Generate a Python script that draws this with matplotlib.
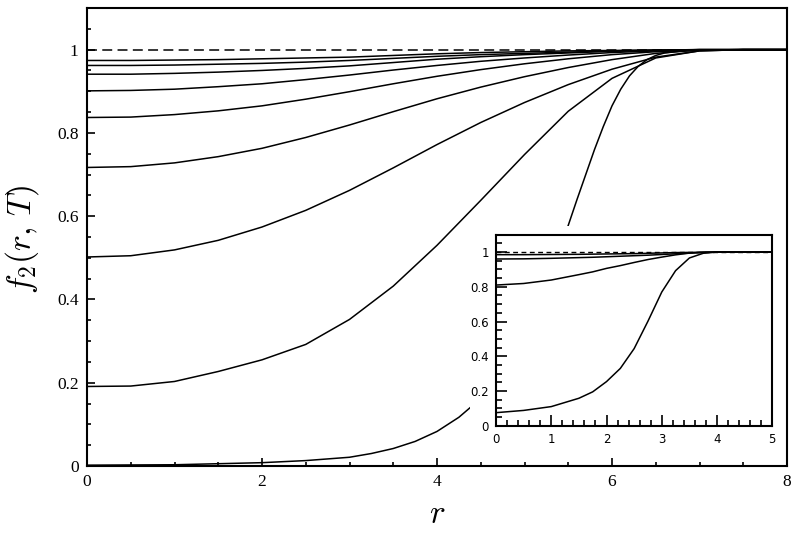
import matplotlib
matplotlib.use("Agg")
import matplotlib.pyplot as plt
from matplotlib.patches import Rectangle
from matplotlib.ticker import MultipleLocator, FixedLocator

plt.rcParams['mathtext.fontset'] = 'cm'
plt.rcParams['font.family'] = 'serif'
plt.rcParams['font.serif'] = ['Liberation Serif', 'DejaVu Serif']

# ---------------- main panel data ----------------
r_main = [0, 0.5, 1, 1.5, 2, 2.5, 3, 3.5, 4, 4.5, 5, 5.5, 6, 6.5, 7, 7.5, 8]
c2 = [0.191, 0.192, 0.203, 0.227, 0.255, 0.292, 0.352, 0.432, 0.530, 0.638, 0.748, 0.852, 0.931, 0.980, 0.997, 1.0, 1.0]
c3 = [0.502, 0.505, 0.519, 0.542, 0.574, 0.614, 0.662, 0.716, 0.772, 0.825, 0.873, 0.916, 0.953, 0.982, 0.997, 1.0, 1.0]
c4 = [0.717, 0.719, 0.728, 0.743, 0.763, 0.789, 0.819, 0.851, 0.882, 0.910, 0.935, 0.957, 0.976, 0.991, 0.999, 1.0, 1.0]
c5 = [0.837, 0.838, 0.844, 0.853, 0.865, 0.881, 0.899, 0.918, 0.936, 0.952, 0.966, 0.978, 0.988, 0.995, 0.999, 1.0, 1.0]
c6 = [0.901, 0.902, 0.905, 0.911, 0.918, 0.928, 0.939, 0.951, 0.962, 0.972, 0.980, 0.987, 0.993, 0.997, 1.0, 1.0, 1.0]
c7 = [0.941, 0.941, 0.943, 0.946, 0.950, 0.955, 0.961, 0.969, 0.977, 0.983, 0.988, 0.992, 0.996, 0.998, 1.0, 1.0, 1.0]
c8 = [0.962, 0.962, 0.963, 0.965, 0.967, 0.970, 0.974, 0.979, 0.984, 0.988, 0.991, 0.994, 0.997, 0.999, 1.0, 1.0, 1.0]
c9 = [0.974, 0.974, 0.975, 0.976, 0.978, 0.980, 0.982, 0.986, 0.990, 0.993, 0.995, 0.997, 0.998, 0.999, 1.0, 1.0, 1.0]

r_c1 = [0, 1, 2, 2.5, 3, 3.25, 3.5, 3.75, 4.0, 4.25, 4.4, 4.6, 4.8, 5.0, 5.2, 5.4, 5.5, 5.6, 5.7,
        5.8, 5.9, 6.0, 6.1, 6.2, 6.3, 6.4, 6.5, 6.6, 6.8, 7.0, 7.5, 8]
c1 = [0.002, 0.003, 0.008, 0.013, 0.021, 0.030, 0.042, 0.059, 0.083, 0.117, 0.144, 0.19, 0.25,
      0.33, 0.42, 0.52, 0.578, 0.64, 0.70, 0.76, 0.815, 0.865, 0.905, 0.937, 0.960, 0.976,
      0.986, 0.992, 0.997, 0.999, 1.0, 1.0]

main_curves = [c2, c3, c4, c5, c6, c7, c8, c9]
ref_level = 1.0

# ---------------- inset data ----------------
r_in = [0, 0.5, 1.0, 1.5, 1.75, 2.0, 2.25, 2.5, 2.75, 3.0, 3.25, 3.5, 3.75, 4.0, 4.5, 5.0]
i1 = [0.075, 0.088, 0.110, 0.158, 0.195, 0.254, 0.330, 0.444, 0.602, 0.770, 0.893, 0.966, 0.993, 1.0, 1.0, 1.0]
i2 = [0.810, 0.819, 0.839, 0.870, 0.886, 0.906, 0.922, 0.940, 0.957, 0.971, 0.984, 0.994, 0.999, 1.0, 1.0, 1.0]
i3 = [0.960, 0.961, 0.964, 0.968, 0.970, 0.973, 0.976, 0.979, 0.982, 0.986, 0.990, 0.994, 0.998, 1.0, 1.0, 1.0]
i4 = [0.985, 0.985, 0.986, 0.987, 0.988, 0.989, 0.990, 0.991, 0.993, 0.995, 0.997, 0.998, 0.999, 1.0, 1.0, 1.0]
inset_curves = [i1, i2, i3, i4]

main_yticks = [0, 0.2, 0.4, 0.6, 0.8, 1.0]
main_ylabels = ["0", "0.2", "0.4", "0.6", "0.8", "1"]
main_xticks = [0, 2, 4, 6, 8]
main_xlabels = ["0", "2", "4", "6", "8"]
inset_xticks = [0, 1, 2, 3, 4, 5]
inset_xlabels = ["0", "1", "2", "3", "4", "5"]

# ---------------- figure ----------------
fig = plt.figure(figsize=(7.96, 5.48), dpi=100)
ax = fig.add_axes([87/796, 1-466/548, 700/796, 458/548])

ax.plot([0, 8], [ref_level, ref_level], color='black', lw=1.1, ls=(0, (6.5, 3.5)))
ax.plot(r_c1, c1, color='black', lw=1.1)
for c in main_curves:
    ax.plot(r_main, c, color='black', lw=1.1)

ax.set_xlim(0, 8)
ax.set_ylim(0, 1.1)
ax.xaxis.set_major_locator(FixedLocator(main_xticks))
ax.set_xticklabels(main_xlabels)
ax.xaxis.set_minor_locator(MultipleLocator(0.5))
ax.yaxis.set_major_locator(FixedLocator(main_yticks))
ax.set_yticklabels(main_ylabels)
ax.yaxis.set_minor_locator(MultipleLocator(0.05))
ax.tick_params(which='both', direction='in', top=False, right=False, width=1.2)
ax.tick_params(which='major', length=6, labelsize=12.5, pad=6)
ax.tick_params(which='minor', length=3)
for s in ax.spines.values():
    s.set_linewidth(1.5)

fig.text(437/796, 1-515/548, r'$r$', fontsize=24, ha='center', va='center')
fig.text(22/796, 1-239/548, r'$f_2(r,\,T)$', fontsize=24, ha='center', va='center', rotation=90)

# white background behind inset (covers label area)
rect = Rectangle((470/796, 1-448/548), (783-470)/796, (448-226)/548,
                 transform=fig.transFigure, facecolor='white', edgecolor='none', zorder=1.5)
fig.patches.append(rect)

axi = fig.add_axes([496/796, 1-425.7/548, 276.3/796, 191/548], zorder=2)
axi.plot([0, 5], [ref_level, ref_level], color='black', lw=1.0, ls=(0, (3.5, 2.5)))
for c in inset_curves:
    axi.plot(r_in, c, color='black', lw=1.1)
axi.set_xlim(0, 5)
axi.set_ylim(0, 1.1)
axi.xaxis.set_major_locator(FixedLocator(inset_xticks))
axi.set_xticklabels(inset_xlabels)
axi.xaxis.set_minor_locator(MultipleLocator(0.2))
axi.yaxis.set_major_locator(FixedLocator(main_yticks))
axi.set_yticklabels(main_ylabels)
axi.yaxis.set_minor_locator(MultipleLocator(0.05))
axi.tick_params(which='both', direction='in', top=False, right=False, width=1.2)
axi.tick_params(which='major', length=8, labelsize=8.5, pad=5, labelfontfamily='DejaVu Sans')
axi.tick_params(which='minor', length=4)
for s in axi.spines.values():
    s.set_linewidth(1.5)

fig.savefig('out.png', dpi=100)
